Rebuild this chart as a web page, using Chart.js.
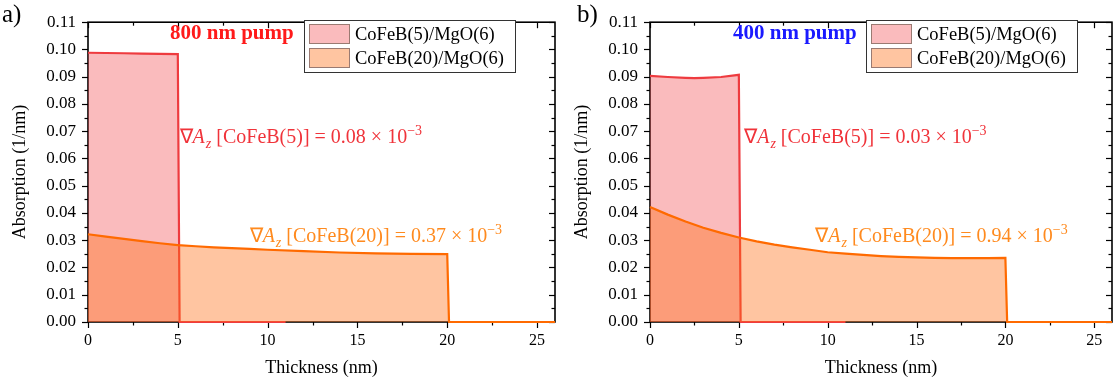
<!DOCTYPE html>
<html>
<head>
<meta charset="utf-8">
<script src="https://cdn.jsdelivr.net/npm/chart.js@4.4.0/dist/chart.umd.min.js"></script>
<style>
  body { margin: 0; background: #fff; width: 1113px; height: 388px; overflow: hidden; }
  canvas { position: absolute; top: 0; }
</style>
</head>
<body>
<canvas id="chartA" width="560" height="388" style="left:0"></canvas>
<canvas id="chartB" width="553" height="388" style="left:560px"></canvas>
<script>
// series labels
const seriesLabels = ['CoFeB(5)/MgO(6)', 'CoFeB(20)/MgO(6)']
const layerNames = ['CoFeB(5)', 'CoFeB(20)']

// panel a) 800 nm pump
const thickA5 = [0, 1, 2, 3, 4, 5, 5.1, 11]
const absA5 = [0.0988, 0.0987, 0.0986, 0.0985, 0.0984, 0.0983, 0, 0]
const thickA20 = [0, 1, 2, 3, 4, 5, 6, 7, 8, 9, 10, 12, 14, 16, 18, 20, 20.1, 26]
const absA20 = [0.0322, 0.0313, 0.0305, 0.0297, 0.0289, 0.0282, 0.0278, 0.0274, 0.0271, 0.0268, 0.0265, 0.0260, 0.0255, 0.0252, 0.0250, 0.0249, 0, 0]
const gradA = ['0.08', '0.37']

// panel b) 400 nm pump
const thickB5 = [0, 1, 2, 2.5, 3, 4, 5, 5.1, 11]
const absB5 = [0.0903, 0.0899, 0.0896, 0.0895, 0.0896, 0.0899, 0.0907, 0, 0]
const thickB20 = [0, 1, 2, 3, 4, 5, 6, 7, 8, 9, 10, 11, 12, 13, 14, 15, 16, 17, 18, 19, 20, 20.1, 26]
const absB20 = [0.0422, 0.0394, 0.0369, 0.0346, 0.0327, 0.0310, 0.0296, 0.0284, 0.0274, 0.0265, 0.0256, 0.0251, 0.0246, 0.0242, 0.0239, 0.0237, 0.0235, 0.0234, 0.0234, 0.0234, 0.0235, 0, 0]
const gradB = ['0.03', '0.94']

const SERIF = '"Liberation Serif", "Times New Roman", serif'
const RED = '#ee3b3f', ORANGE = '#ff6a00'
const RED_FILL = 'rgba(240,60,65,0.35)', ORANGE_FILL = 'rgba(255,110,20,0.4)'

function pts(xs, ys) { return xs.map((x, i) => ({ x: x, y: ys[i] })) }

// frame + mirrored ticks (drawn under the curves)
const framePlugin = {
  id: 'frame',
  beforeDatasetsDraw(chart) {
    const { ctx, chartArea: a, scales: { x, y } } = chart
    ctx.save()
    ctx.strokeStyle = '#000'
    const seg = (x1, y1, x2, y2) => { ctx.beginPath(); ctx.moveTo(x1, y1); ctx.lineTo(x2, y2); ctx.stroke() }
    ctx.lineWidth = 1.2
    for (let v = 0; v <= 26.001; v += 2.5) {
      const px = Math.round(x.getPixelForValue(v)) + 0.5
      const len = Math.abs(v % 5) < 1e-6 ? 6 : 3.5
      seg(px, a.bottom, px, a.bottom + len)
      seg(px, a.top, px, a.top + len)
    }
    for (let i = 0; i <= 22; i++) {
      const py = Math.round(y.getPixelForValue(i * 0.005)) + 0.5
      const len = i % 2 === 0 ? 6 : 3.5
      seg(a.left - len, py, a.left, py)
      seg(a.right - len, py, a.right, py)
    }
    ctx.lineWidth = 1.6
    ctx.strokeRect(a.left, a.top, a.right - a.left, a.bottom - a.top)
    ctx.restore()
  }
}

// draw "∇A_z [layer] = v × 10^-3"
function drawMath(ctx, x, y, layer, val, color, size) {
  const parts = [
    { t: '\u2207', s: 1, dy: 0, it: false },
    { t: 'A', s: 1, dy: 0, it: true },
    { t: 'z', s: 0.7, dy: size * 0.25, it: true },
    { t: ' [' + layer + '] = ' + val + ' \u00d7 10', s: 1, dy: 0, it: false },
    { t: '\u22123', s: 0.7, dy: -size * 0.4, it: false }
  ]
  ctx.save()
  ctx.fillStyle = color
  ctx.textBaseline = 'alphabetic'
  ctx.textAlign = 'left'
  let cx = x
  parts.forEach(p => {
    ctx.font = (p.it ? 'italic ' : '') + (size * p.s) + 'px ' + SERIF
    ctx.fillText(p.t, cx, y + p.dy)
    cx += ctx.measureText(p.t).width + (p.t === 'A' ? 1 : 0)
  })
  ctx.restore()
}

function makeChart(id, d, opt) {
  const annot = {
    id: 'annot',
    afterDraw(chart) {
      const { ctx, scales: { x, y }, chartArea: a } = chart
      // heading
      ctx.save()
      ctx.font = 'bold 21px ' + SERIF
      ctx.fillStyle = opt.titleColor
      ctx.textBaseline = 'middle'
      ctx.fillText(opt.title, a.left + opt.titleDx, 34)
      // panel letter
      ctx.font = '25px ' + SERIF
      ctx.fillStyle = '#000'
      ctx.fillText(opt.letter, opt.letterX, 15)
      // legend
      const lx = a.left + opt.legendDx, ly = 20
      ctx.fillStyle = '#fff'
      ctx.fillRect(lx, ly, 211, 52)
      ctx.strokeStyle = '#333'
      ctx.lineWidth = 1
      ctx.strokeRect(lx + 0.5, ly + 0.5, 211, 52)
      chart.data.datasets.forEach((ds, i) => {
        const ry = ly + 4 + i * 24
        ctx.fillStyle = ds.backgroundColor
        ctx.fillRect(lx + 5, ry, 40, 19)
        ctx.strokeStyle = '#9a7a72'
        ctx.strokeRect(lx + 5.5, ry + 0.5, 40, 19)
        ctx.fillStyle = '#000'
        ctx.font = '18.5px ' + SERIF
        ctx.textBaseline = 'middle'
        ctx.fillText(ds.label, lx + 51, ry + 11)
      })
      ctx.restore()
      // gradient annotations
      drawMath(ctx, x.getPixelForValue(opt.m5[0]), y.getPixelForValue(opt.m5[1]), layerNames[0], opt.grad[0], '#f0333a', 20)
      drawMath(ctx, x.getPixelForValue(opt.m20[0]), y.getPixelForValue(opt.m20[1]), layerNames[1], opt.grad[1], '#ff8a1e', 20)
    }
  }

  const line = { fill: 'origin', borderWidth: 2.2, pointRadius: 0, tension: 0, clip: 4 }

  return new Chart(document.getElementById(id).getContext('2d'), {
    type: 'line',
    data: {
      datasets: [
        Object.assign({ label: seriesLabels[0], data: d[0], borderColor: RED, backgroundColor: RED_FILL, order: 2 }, line),
        Object.assign({ label: seriesLabels[1], data: d[1], borderColor: ORANGE, backgroundColor: ORANGE_FILL, order: 1 }, line)
      ]
    },
    options: {
      responsive: false,
      animation: false,
      layout: { padding: { top: 11, right: opt.padRight, left: 0, bottom: 0 } },
      plugins: { legend: { display: false }, tooltip: { enabled: false } },
      scales: {
        x: {
          type: 'linear', min: 0, max: 26,
          afterFit: s => { s.height = 66 },
          grid: { display: false, drawTicks: false },
          border: { display: false },
          ticks: { stepSize: 5, includeBounds: false, padding: 9, color: '#000', font: { family: SERIF, size: 16 } },
          title: { display: true, text: 'Thickness (nm)', color: '#000', font: { family: SERIF, size: 18 }, padding: { top: 0, bottom: 9 } }
        },
        y: {
          min: 0, max: 0.11,
          afterFit: s => { s.width = opt.yWidth },
          grid: { display: false, drawTicks: false },
          border: { display: false },
          ticks: { stepSize: 0.01, padding: 12, color: '#000', font: { family: SERIF, size: 17 }, callback: v => v.toFixed(2) },
          title: { display: true, text: 'Absorption (1/nm)', color: '#000', font: { family: SERIF, size: 18 }, padding: { top: opt.yTitlePad, bottom: 0 } }
        }
      }
    },
    plugins: [framePlugin, annot]
  })
}

makeChart('chartA', [pts(thickA5, absA5), pts(thickA20, absA20)], {
  padRight: 5, yWidth: 88, yTitlePad: 9,
  title: '800 nm pump', titleColor: '#ff1a1a', titleDx: 82,
  letter: 'a)', letterX: 2, legendDx: 216,
  grad: gradA, m5: [5.1, 0.0655], m20: [9.0, 0.0292]
})

makeChart('chartB', [pts(thickB5, absB5), pts(thickB20, absB20)], {
  padRight: 1, yWidth: 90, yTitlePad: 11,
  title: '400 nm pump', titleColor: '#1a1aff', titleDx: 83,
  letter: 'b)', letterX: 17, legendDx: 216,
  grad: gradB, m5: [5.3, 0.0655], m20: [9.3, 0.0292]
})
</script>
</body>
</html>
